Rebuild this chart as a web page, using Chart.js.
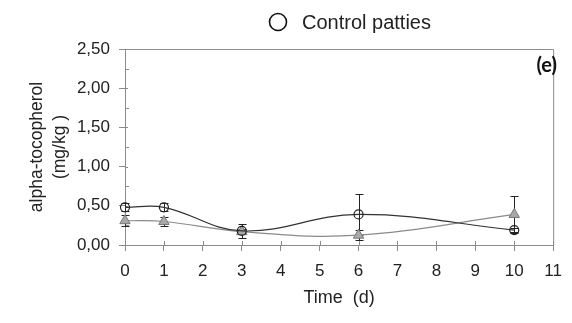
<!DOCTYPE html>
<html><head><meta charset="utf-8">
<script src="https://cdn.jsdelivr.net/npm/chart.js@4.4.1/dist/chart.umd.min.js"></script>
<style>html,body{margin:0;padding:0;background:#fff;}#wrap{width:572px;height:323px;}</style>
</head><body><div id="wrap"><canvas id="c" width="572" height="323"></canvas></div>
<script>
const days = [0, 1, 3, 6, 10];
const controlValues = [0.48, 0.48, 0.18, 0.39, 0.19];
const controlErrors = [0.05, 0.05, 0.09, 0.26, 0.03];
const otherValues = [0.31, 0.30, 0.17, 0.125, 0.39];
const otherErrors = [0.07, 0.06, 0.03, 0.06, 0.24];
const yTicks = ['0,00','0,50','1,00','1,50','2,00','2,50'];
const legendLabel = 'Control patties';
const panelLabel = '(e)';

const toPts = (vals) => days.map((d, i) => ({x: d, y: vals[i]}));

const extras = {
  id: 'extras',
  beforeDatasetsDraw(chart) {
    const {ctx, chartArea: a, scales: {x, y}} = chart;
    ctx.save();
    ctx.strokeStyle = '#8c8c8c'; ctx.lineWidth = 1;
    ctx.beginPath();
    ctx.moveTo(a.left, a.top + 0.5); ctx.lineTo(a.right + 0.5, a.top + 0.5); ctx.lineTo(a.right + 0.5, a.bottom);
    for (let v = 0; v <= 11; v++) { const px = Math.round(x.getPixelForValue(v)) + 0.5; ctx.moveTo(px, a.bottom); ctx.lineTo(px, a.bottom - 4); }
    for (let v = 0.25; v < 2.5; v += 0.5) { const py = Math.round(y.getPixelForValue(v)) + 0.5; ctx.moveTo(a.left, py); ctx.lineTo(a.left + 4, py); }
    for (let v = 0.5; v < 2.5; v += 0.5) { const py = Math.round(y.getPixelForValue(v)) + 0.5; ctx.moveTo(a.left, py); ctx.lineTo(a.left + 3, py); }
    ctx.stroke();
    const drawErr = (vals, errs) => {
      ctx.strokeStyle = '#222'; ctx.lineWidth = 1;
      ctx.beginPath();
      days.forEach((d, i) => {
        const px = Math.round(x.getPixelForValue(d)) + 0.5;
        const t = Math.round(y.getPixelForValue(vals[i] + errs[i])) + 0.5;
        const b = Math.round(y.getPixelForValue(vals[i] - errs[i])) + 0.5;
        ctx.moveTo(px, t); ctx.lineTo(px, b);
        ctx.moveTo(px - 4, t); ctx.lineTo(px + 4, t);
        ctx.moveTo(px - 4, b); ctx.lineTo(px + 4, b);
      });
      ctx.stroke();
    };
    drawErr(controlValues, controlErrors);
    drawErr(otherValues, otherErrors);
    ctx.restore();
  },
  afterDatasetsDraw(chart) {
    const {ctx} = chart;
    ctx.save();
    ctx.strokeStyle = '#111'; ctx.lineWidth = 1.6;
    ctx.beginPath(); ctx.arc(278, 22, 8.5, 0, Math.PI * 2); ctx.stroke();
    ctx.fillStyle = '#222'; ctx.font = "20px 'Liberation Sans', Arial, sans-serif";
    ctx.textBaseline = 'middle'; ctx.textAlign = 'left';
    ctx.fillText(legendLabel, 302, 23);
    ctx.font = "bold 20px Lato, 'Open Sans', sans-serif";
    ctx.textAlign = 'right'; ctx.fillStyle = '#111';
    ctx.fillText(panelLabel, 557, 66);
    ctx.restore();
  }
};

new Chart(document.getElementById('c'), {
  type: 'line',
  data: {
    datasets: [
      { label: legendLabel, data: toPts(controlValues), borderColor: '#333', borderWidth: 1.2,
        tension: 0.4, pointStyle: 'circle', pointRadius: 4.5, pointBorderColor: '#222', clip: false,
        pointBackgroundColor: 'rgba(255,255,255,0)', pointBorderWidth: 1.2, order: 1 },
      { label: 'other', data: toPts(otherValues), borderColor: '#8a8a8a', borderWidth: 1.2,
        tension: 0.4, pointStyle: 'triangle', pointRadius: 6, pointBorderColor: '#777', clip: false,
        pointBackgroundColor: '#a8a8a8', pointBorderWidth: 1, order: 2 }
    ]
  },
  options: {
    responsive: false, animation: false,
    layout: { padding: { top: 49, right: 9, left: 0, bottom: 0 } },
    plugins: { legend: { display: false }, tooltip: { enabled: false } },
    scales: {
      x: {
        type: 'linear', min: 0, max: 11,
        afterFit: (s) => { s.height = 78; },
        ticks: { stepSize: 1, color: '#222', padding: 10, maxRotation: 0,
          font: { family: "'Liberation Sans', Arial, sans-serif", size: 17 } },
        grid: { drawOnChartArea: false, tickLength: 6, color: '#8c8c8c', tickColor: '#8c8c8c' },
        border: { color: '#8c8c8c' },
        title: { display: true, text: 'Time  (d)', color: '#222', padding: { top: 0, bottom: 14 },
          font: { family: "'Liberation Sans', Arial, sans-serif", size: 18 } }
      },
      y: {
        min: 0, max: 2.5,
        afterFit: (s) => { s.width = 125; },
        ticks: { stepSize: 0.5, color: '#222', padding: 9,
          callback: (v) => yTicks[Math.round(v / 0.5)],
          font: { family: "'Liberation Sans', Arial, sans-serif", size: 17 } },
        grid: { drawOnChartArea: false, tickLength: 6, color: '#8c8c8c', tickColor: '#8c8c8c' },
        border: { color: '#8c8c8c' },
        title: { display: true, text: ['alpha-tocopherol', '(mg/kg )'], color: '#222',
          padding: { top: 25.5, bottom: 0 },
          font: { family: "'Liberation Sans', Arial, sans-serif", size: 17.5, lineHeight: 1.31 } }
      }
    }
  },
  plugins: [extras]
});
</script></body></html>
